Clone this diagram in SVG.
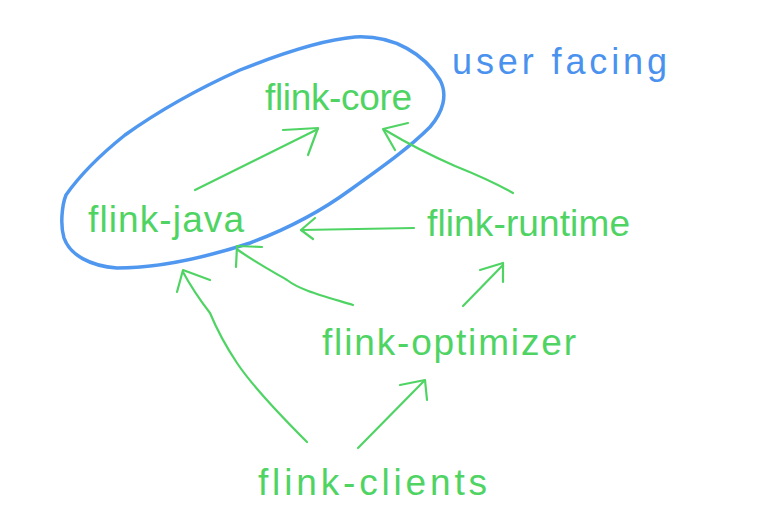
<svg xmlns="http://www.w3.org/2000/svg" width="768" height="528" viewBox="0 0 768 528">
<style>
.lbl{font-family:"Liberation Sans",Arial,sans-serif;font-size:37px;fill:#4fd464}
.usr{font-family:"Liberation Sans",Arial,sans-serif;font-size:36px;fill:#4a92ee}
.edge{fill:none;stroke:#4fd464;stroke-width:2.2;stroke-linecap:round;stroke-linejoin:round}
.grp{fill:none;stroke:#3d8ced;stroke-width:3.5;stroke-linecap:round;stroke-linejoin:round;opacity:0.9}
</style>
<rect width="768" height="528" fill="#ffffff"/>
<g id="user-facing-group">
<path class="grp" d="M66,195 C80,175 100,155 125,135 C160,110 200,88 240,70 C280,54 320,40 355,37 C395,35 425,55 440,80 C448,95 443,112 430,127 C410,147 385,165 350,190 C320,212 290,228 250,243 C210,256 160,268 117,268 C90,266 70,255 64,238 C60,225 62,205 66,195"/>
<text class="usr" x="452" y="74" textLength="215" lengthAdjust="spacing">user facing</text>
</g>
<g id="flink-core"><text class="lbl" x="265" y="110" textLength="147" lengthAdjust="spacing">flink-core</text></g>
<g id="flink-java"><text class="lbl" x="88" y="232" textLength="156" lengthAdjust="spacing">flink-java</text></g>
<g id="flink-runtime"><text class="lbl" x="427" y="236" textLength="203" lengthAdjust="spacing">flink-runtime</text></g>
<g id="flink-optimizer"><text class="lbl" x="322" y="355" textLength="254" lengthAdjust="spacing">flink-optimizer</text></g>
<g id="flink-clients"><text class="lbl" x="258" y="495" textLength="229" lengthAdjust="spacing">flink-clients</text></g>
<g id="connectors">
<path class="edge" d="M195,190 L318,129"/>
<path class="edge" d="M283,130 L318,128 L308,155"/>
<path class="edge" d="M513,193 C490,180 465,170 455,166 C430,155 405,142 385,130"/>
<path class="edge" d="M408,123 L383,129 L395,150"/>
<path class="edge" d="M414,228 L301,230"/>
<path class="edge" d="M315,218 L301,230 L313,239"/>
<path class="edge" d="M353,305 C320,295 300,290 287,280 C270,270 255,262 238,250"/>
<path class="edge" d="M262,247 L237,246 L236,267"/>
<path class="edge" d="M307,442 C290,425 255,390 237,363 C225,345 215,325 210,313 C200,300 190,285 183,272"/>
<path class="edge" d="M177,292 L183,270 L210,280"/>
<path class="edge" d="M463,306 L503,265"/>
<path class="edge" d="M480,270 L503,263 L503,282"/>
<path class="edge" d="M358,448 L424,381"/>
<path class="edge" d="M400,385 L425,380 L427,400"/>
</g>
</svg>
